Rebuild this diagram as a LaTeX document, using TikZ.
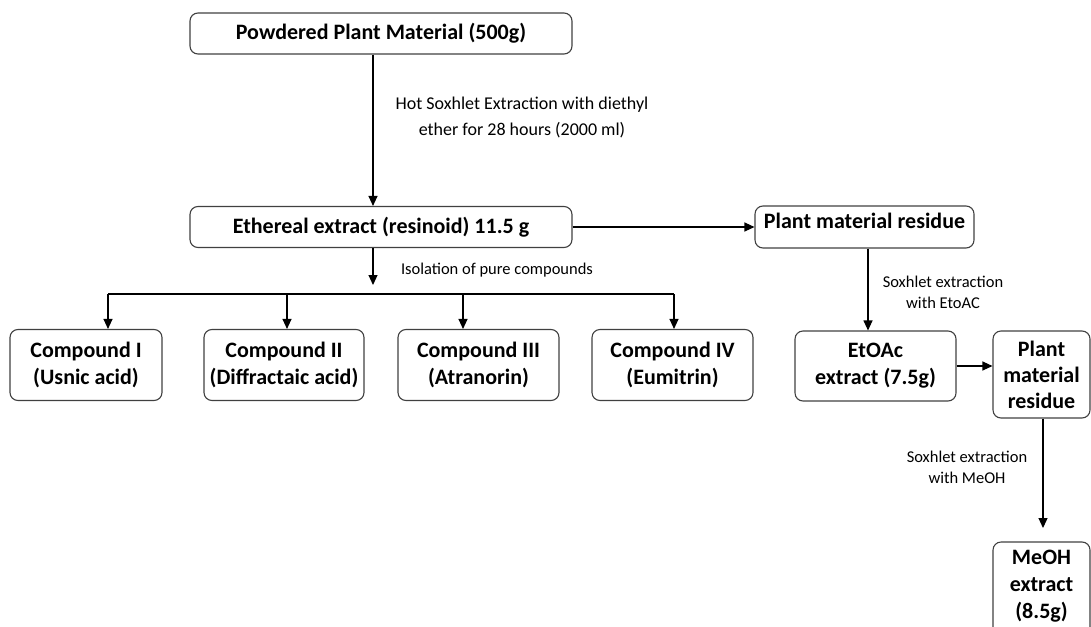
\documentclass[tikz,border=0pt]{standalone}
\usepackage{fontspec}
\setmainfont{Carlito}
\usetikzlibrary{arrows.meta,calc}
\tikzset{
  box/.style={draw=black!75, line width=1.1pt, rounded corners=8pt, align=center,
    inner sep=0pt, font=\fontsize{22}{27}\selectfont\bfseries, text=black},
  arr/.style={line width=1.1pt, -{Triangle[length=10pt,width=9pt]}},
  ln/.style={line width=1.1pt},
  lbl/.style={align=center, inner sep=0pt, font=\fontsize{18}{26}\selectfont},
  slbl/.style={align=center, inner sep=0pt, font=\fontsize{16.5}{21}\selectfont},
}
\begin{document}
\begin{tikzpicture}[x=1pt,y=-1pt]
\useasboundingbox (0,0) rectangle (1091,626);
\begin{scope}
\clip (0,0) rectangle (1091,626);
\node[box, minimum width=382pt, minimum height=41pt] (top) at (381,33.5) {Powdered Plant Material (500g)};
\node[box, minimum width=382pt, minimum height=41pt] (eth) at (381,227) {Ethereal extract (resinoid) 11.5 g};
\node[box, minimum width=219pt, minimum height=42pt] (res1) at (864.5,227) {Plant material residue\\[-22pt]\strut};
\node[box, minimum width=152pt, minimum height=71pt] (c1) at (86,365) {Compound I\\(Usnic acid)};
\node[box, minimum width=160pt, minimum height=71pt] (c2) at (284,365) {Compound II\\(Diffractaic acid)};
\node[box, minimum width=161pt, minimum height=71pt] (c3) at (478.5,365) {Compound III\\(Atranorin)};
\node[box, minimum width=161pt, minimum height=71pt] (c4) at (672.5,365) {Compound IV\\(Eumitrin)};
\node[box, minimum width=161pt, minimum height=70pt] (etoac) at (875.5,366) {EtOAc\\extract (7.5g)};
\node[box, minimum width=97pt, minimum height=87pt, font=\fontsize{22}{26}\selectfont\bfseries] (res2) at (1041.5,374.5) {Plant\\material\\residue};
\node[box, minimum width=97pt, minimum height=100pt, font=\fontsize{22}{27}\selectfont\bfseries] (meoh) at (1041.5,592) {MeOH\\extract\\(8.5g)\\[-20pt]\strut};

\node[lbl] (l1) at (522,117) {Hot Soxhlet Extraction with diethyl\\ether for 28 hours (2000 ml)};
\node[slbl] (l2) at (497,270) {Isolation of pure compounds};
\node[slbl] (l3) at (943,292) {Soxhlet extraction\\with EtoAC};
\node[slbl] (l4) at (967,467) {Soxhlet extraction\\with MeOH};

\draw[arr] ($(top.south)+(-8,0)$) -- ($(eth.north)+(-8,0)$);
\draw[arr] (eth.east) -- (res1.west |- eth.east);
\coordinate (iso) at (373,285);
\draw[arr] ($(eth.south)+(-8,0)$) -- (iso);
\coordinate (busL) at (108,294);
\coordinate (busR) at (674,294);
\coordinate (bus2) at (287,294);
\coordinate (bus3) at (463,294);
\draw[ln] (busL) -- (busR);
\draw[arr] (busL) -- (busL |- c1.north);
\draw[arr] (bus2) -- (bus2 |- c2.north);
\draw[arr] (bus3) -- (bus3 |- c3.north);
\draw[arr] (busR) -- (busR |- c4.north);
\coordinate (r1s) at ($(res1.south)+(3.5,0)$);
\draw[arr] (r1s) -- (r1s |- etoac.north);
\draw[arr] (etoac.east) -- (res2.west |- etoac.east);
\coordinate (meohtip) at (1043,528);
\draw[arr] ($(res2.south)+(1.5,0)$) -- (meohtip);
\end{scope}
\end{tikzpicture}
\end{document}
